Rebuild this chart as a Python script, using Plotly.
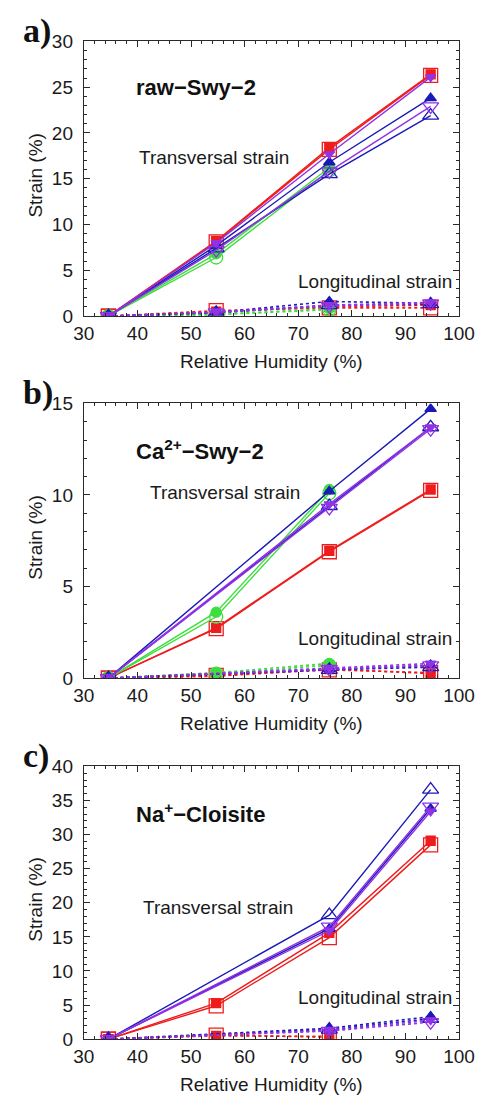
import plotly.graph_objects as go

W, H = 493, 1112

# ---------------- data ----------------
rh = [34.6, 54.7, 75.8, 94.7]

# panel a) raw-Swy-2
a_trans_red_f = [0, 8.2, 18.4, 26.4]
a_trans_red_o = [0, 8.1, 18.2, 26.3]
a_trans_green_f = [0, 6.8, 16.2, None]
a_trans_green_o = [0, 6.4, 15.9, None]
a_trans_blue_f = [0, 7.7, 16.8, 23.8]
a_trans_blue_o = [0, 7.4, 15.5, 21.9]
a_trans_purple_f = [0, 8.0, 17.7, 26.1]
a_trans_purple_o = [0, 7.2, 15.8, 22.9]
a_long_red_f = [0, 0.5, 1.0, 1.2]
a_long_red_o = [0, 0.6, 0.9, 0.9]
a_long_green_f = [0, 0.2, 0.8, None]
a_long_green_o = [0, 0.15, 0.7, None]
a_long_blue_f = [0, 0.4, 1.6, 1.4]
a_long_blue_o = [0, 0.35, 1.2, 1.3]
a_long_purple_f = [0, 0.45, 1.2, 1.5]
a_long_purple_o = [0, 0.4, 1.1, 1.4]

# panel b) Ca2+-Swy-2
b_trans_red_f = [0, 2.75, 6.95, 10.3]
b_trans_red_o = [0, 2.7, 6.9, 10.25]
b_trans_green_f = [0, 3.6, 10.3, None]
b_trans_green_o = [0, 3.35, 10.1, None]
b_trans_blue_f = [0, None, 10.2, 14.7]
b_trans_blue_o = [0, None, 9.4, 13.7]
b_trans_purple_f = [0, None, 9.5, 13.7]
b_trans_purple_o = [0, None, 9.3, 13.6]
b_long_red_f = [0, 0.1, 0.5, 0.25]
b_long_red_o = [0, 0.15, 0.45, 0.3]
b_long_green_f = [0, 0.3, 0.8, None]
b_long_green_o = [0, 0.25, 0.7, None]
b_long_blue_f = [0, None, 0.5, 0.7]
b_long_blue_o = [0, None, 0.45, 0.6]
b_long_purple_f = [0, None, 0.55, 0.8]
b_long_purple_o = [0, None, 0.5, 0.7]

# panel c) Na+-Cloisite
c_trans_red_f = [0, 5.3, 15.6, 29.1]
c_trans_red_o = [0, 4.9, 14.9, 28.5]
c_trans_blue_f = [0, None, 16.2, 33.8]
c_trans_blue_o = [0, None, 18.2, 36.6]
c_trans_purple_f = [0, None, 15.9, 33.4]
c_trans_purple_o = [0, None, 16.5, 34.1]
c_long_red_f = [0, 0.5, 0.4, None]
c_long_red_o = [0, 0.6, 0.3, None]
c_long_blue_f = [0, None, 1.6, 3.3]
c_long_blue_o = [0, None, 1.4, 3.0]
c_long_purple_f = [0, None, 1.3, 2.8]
c_long_purple_o = [0, None, 1.2, 2.5]

panel_names = ["<b>raw\u2212Swy\u22122</b>",
               "<b>Ca<sup>2+</sup>\u2212Swy\u22122</b>",
               "<b>Na<sup>+</sup>\u2212Cloisite</b>"]
panel_letters = ["a)", "b)", "c)"]
y_max = [30, 15, 40]
x_ticks = [30, 40, 50, 60, 70, 80, 90, 100]

# ---------------- styles ----------------
RED, GREEN, BLUE, PURPLE = "#ee1c1c", "#3ede3e", "#1a1ab8", "#9232e6"
style = {
    "red_f": dict(color=RED, symbol="square", size=9),
    "red_o": dict(color=RED, symbol="square-open", size=14),
    "green_f": dict(color=GREEN, symbol="circle", size=10),
    "green_o": dict(color=GREEN, symbol="circle-open", size=13),
    "blue_f": dict(color=BLUE, symbol="triangle-up", size=10),
    "blue_o": dict(color=BLUE, symbol="triangle-up-open", size=14),
    "purple_f": dict(color=PURPLE, symbol="triangle-down", size=9),
    "purple_o": dict(color=PURPLE, symbol="triangle-down-open", size=14),
}

panels = [
    {  # a
        "trans": {"red_f": a_trans_red_f, "red_o": a_trans_red_o,
                  "green_f": a_trans_green_f, "green_o": a_trans_green_o,
                  "blue_f": a_trans_blue_f, "blue_o": a_trans_blue_o,
                  "purple_f": a_trans_purple_f, "purple_o": a_trans_purple_o},
        "long": {"red_f": a_long_red_f, "red_o": a_long_red_o,
                 "green_f": a_long_green_f, "green_o": a_long_green_o,
                 "blue_f": a_long_blue_f, "blue_o": a_long_blue_o,
                 "purple_f": a_long_purple_f, "purple_o": a_long_purple_o},
    },
    {  # b
        "trans": {"red_f": b_trans_red_f, "red_o": b_trans_red_o,
                  "green_f": b_trans_green_f, "green_o": b_trans_green_o,
                  "blue_f": b_trans_blue_f, "blue_o": b_trans_blue_o,
                  "purple_f": b_trans_purple_f, "purple_o": b_trans_purple_o},
        "long": {"red_f": b_long_red_f, "red_o": b_long_red_o,
                 "green_f": b_long_green_f, "green_o": b_long_green_o,
                 "blue_f": b_long_blue_f, "blue_o": b_long_blue_o,
                 "purple_f": b_long_purple_f, "purple_o": b_long_purple_o},
    },
    {  # c
        "trans": {"red_f": c_trans_red_f, "red_o": c_trans_red_o,
                  "blue_f": c_trans_blue_f, "blue_o": c_trans_blue_o,
                  "purple_f": c_trans_purple_f, "purple_o": c_trans_purple_o},
        "long": {"red_f": c_long_red_f, "red_o": c_long_red_o,
                 "blue_f": c_long_blue_f, "blue_o": c_long_blue_o,
                 "purple_f": c_long_purple_f, "purple_o": c_long_purple_o},
    },
]

# ---------------- layout geometry (pixels) ----------------
X0, X1 = 77, 474
plot_tops = [32, 401, 771]
plot_bottoms = [312, 681, 1049]

FONT = "Liberation Sans, Arial, sans-serif"
TXT = "#1a1a1a"
AX = "#2a2a2a"

fig = go.Figure()
order = ["red_f", "red_o", "green_f", "green_o", "blue_f", "blue_o", "purple_f", "purple_o"]

for i, p in enumerate(panels):
    xa = "x" if i == 0 else f"x{i+1}"
    ya = "y" if i == 0 else f"y{i+1}"
    for kind, dash, lw in (("long", "dot", 1.6), ("trans", "solid", 1.4)):
        for key in order:
            if key not in p[kind]:
                continue
            st = style[key]
            fig.add_trace(go.Scatter(
                x=rh, y=p[kind][key], xaxis=xa, yaxis=ya,
                mode="lines+markers", connectgaps=True, showlegend=False,
                line=dict(color=st["color"], width=lw, dash=dash),
                marker=dict(symbol=st["symbol"], size=st["size"], color=st["color"],
                            line=dict(color=st["color"], width=1.3)),
            ))

layout = dict(
    width=W, height=H, autosize=False,
    margin=dict(l=0, r=0, t=0, b=0),
    paper_bgcolor="white", plot_bgcolor="white",
    font=dict(family=FONT, size=19, color=TXT),
    showlegend=False,
)

annotations = []
for i in range(3):
    xk = "xaxis" if i == 0 else f"xaxis{i+1}"
    yk = "yaxis" if i == 0 else f"yaxis{i+1}"
    ya = "y" if i == 0 else f"y{i+1}"
    xa = "x" if i == 0 else f"x{i+1}"
    top, bot = plot_tops[i], plot_bottoms[i]
    layout[xk] = dict(
        domain=[X0 / W, X1 / W], range=[30, 100], anchor=ya,
        tickvals=x_ticks, ticks="inside", ticklen=6, tickwidth=1, tickcolor=AX,
        showline=True, linecolor=AX, linewidth=1, mirror="allticks",
        showgrid=False, zeroline=False,
        minor=dict(dtick=2, ticks="inside", ticklen=3, tickcolor=AX, showgrid=False),
        tickfont=dict(size=19, color=TXT), ticklabelstandoff=0,
    )
    layout[yk] = dict(
        domain=[1 - bot / H, 1 - top / H], range=[0, y_max[i]], anchor=xa,
        dtick=5, ticks="inside", ticklen=6, tickwidth=1, tickcolor=AX,
        showline=True, linecolor=AX, linewidth=1, mirror="allticks",
        showgrid=False, zeroline=False,
        minor=dict(dtick=1, ticks="inside", ticklen=3, tickcolor=AX, showgrid=False),
        tickfont=dict(size=19, color=TXT), ticklabelstandoff=6,
    )
    off = [0, 369, 739][i]
    # panel letter
    annotations.append(dict(text=f"<b>{panel_letters[i]}</b>", xref="paper", yref="paper",
                            x=11 / W, y=1 - (off + 21) / H, xanchor="left", yanchor="middle",
                            showarrow=False, font=dict(family="Liberation Serif, serif", size=34, color="#111")))
    # sample name
    annotations.append(dict(text=panel_names[i], xref="paper", yref="paper",
                            x=130 / W, y=1 - (off + 79) / H, xanchor="left", yanchor="middle",
                            showarrow=False, font=dict(size=22, color="#111")))
    # strain labels
    tx = [133, 145, 138][i]
    ty = [150, 123, 176][i]
    annotations.append(dict(text="Transversal strain", xref="paper", yref="paper",
                            x=tx / W, y=1 - (off + ty) / H, xanchor="left", yanchor="middle",
                            showarrow=False, font=dict(size=19, color=TXT)))
    ly = [277, 272, 267][i]
    annotations.append(dict(text="Longitudinal strain", xref="paper", yref="paper",
                            x=302 / W, y=1 - (off + ly) / H, xanchor="left", yanchor="middle",
                            showarrow=False, font=dict(size=19, color=TXT)))
    # axis titles
    annotations.append(dict(text="Strain (%)", xref="paper", yref="paper",
                            x=13 / W, y=1 - (top + bot) / 2 / H + 3 / H, xanchor="left", yanchor="middle",
                            textangle=-90, showarrow=False, font=dict(size=19, color=TXT)))
    annotations.append(dict(text="Relative Humidity (%)", xref="paper", yref="paper",
                            x=(X0 + X1) / 2 / W, y=1 - (bot + 46) / H, xanchor="center", yanchor="middle",
                            showarrow=False, font=dict(size=19, color=TXT)))

layout["annotations"] = annotations
fig.update_layout(**layout)

fig.write_html("out.html", config={"displayModeBar": False},
               post_script="document.body.style.margin='0';")
